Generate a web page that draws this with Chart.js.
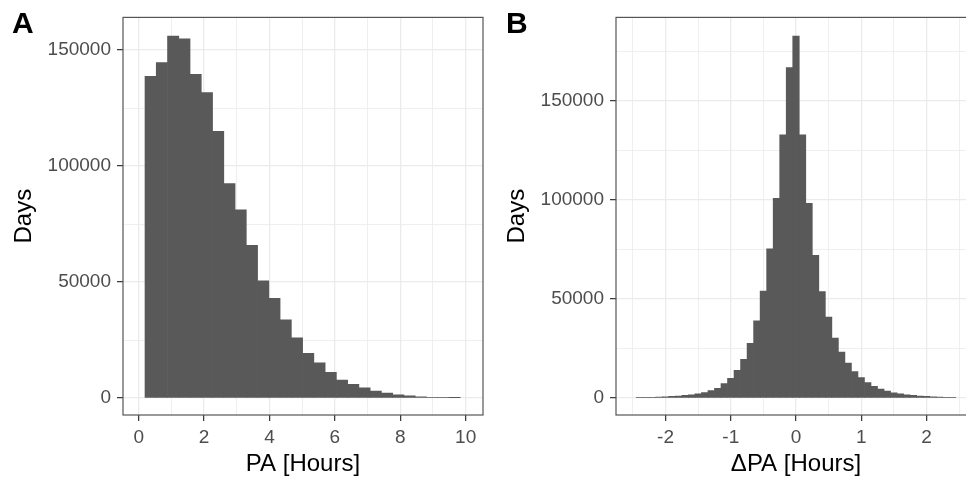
<!DOCTYPE html>
<html><head><meta charset="utf-8">
<script src="https://cdn.jsdelivr.net/npm/chart.js@4.4.1/dist/chart.umd.min.js"></script>
<style>
html,body{margin:0;padding:0;width:966px;height:478px;overflow:hidden;background:#fff;}
canvas{position:absolute;top:0;}
#ca{left:0}
#cb{left:493px}
.tag{position:absolute;font:bold 30px "Liberation Sans",Arial,sans-serif;line-height:30px;color:#000;z-index:2}
</style></head><body>
<canvas id="ca" width="490" height="478"></canvas>
<canvas id="cb" width="490" height="478"></canvas>
<div class="tag" style="left:12px;top:8px">A</div>
<div class="tag" style="left:506px;top:8px">B</div>
<script>
// ---- Panel A: PA [Hours] histogram ----
const paBins = [0.365,0.709,1.054,1.398,1.742,2.087,2.431,2.775,3.119,3.464,3.808,4.152,4.497,4.841,
                5.185,5.530,5.874,6.218,6.562,6.907,7.251,7.595,7.940,8.284,8.628,8.973,9.317,9.661];
const paDays = [138700,144600,156100,154900,139600,131700,115000,92400,81100,65800,50500,43000,33700,26000,
                19300,15200,11050,7700,5900,4350,3000,2150,1400,900,560,350,260,140];
const paTicks = [0,2,4,6,8,10];
const paMinorTicks = [1,3,5,7,9];

// ---- Panel B: ΔPA [Hours] histogram ----
const dpaBins = [-2.4,-2.3,-2.2,-2.1,-2.0,-1.9,-1.8,-1.7,-1.6,-1.5,-1.4,-1.3,-1.2,-1.1,-1.0,-0.9,-0.8,-0.7,-0.6,-0.5,
                 -0.4,-0.3,-0.2,-0.1,0.0,0.1,0.2,0.3,0.4,0.5,0.6,0.7,0.8,0.9,1.0,1.1,1.2,1.3,1.4,1.5,1.6,1.7,1.8,1.9,
                 2.0,2.1,2.2,2.3,2.4];
const dpaDays = [250,300,400,500,660,800,990,1320,1650,2150,2700,3700,4950,7300,10000,14000,19500,27600,39000,54000,
                 75300,100800,132800,166800,182700,132800,98300,72000,53700,40800,30200,23200,17600,13300,10300,7760,
                 5940,4460,3470,2640,2150,1650,1320,990,820,660,500,400,330];
const dpaTicks = [-2,-1,0,1,2];
const dpaMinorTicks = [-2.5,-1.5,-0.5,0.5,1.5,2.5];

// ---- Y (Days) ticks ----
const daysTicks = [0,50000,100000,150000];
const daysMinorA = [25000,75000,125000];
const daysMinorB = [25000,75000,125000,175000];

const FONT = '"Liberation Sans", Arial, Helvetica, sans-serif';
Chart.defaults.font.family = FONT;

const panelBorder = {
  id: 'panelBorder',
  afterDraw(chart) {
    const {ctx, chartArea: a} = chart;
    ctx.save();
    ctx.strokeStyle = '#555555';
    ctx.lineWidth = 1.2;
    ctx.strokeRect(a.left, a.top, a.right - a.left, a.bottom - a.top);
    ctx.restore();
  }
};

function inList(list, v) { return list.some(m => Math.abs(m - v) < 1e-9); }

function histogram(id, bins, days, xRange, yRange, xMajor, xMinor, yMajor, yMinor, xTitle) {
  return new Chart(document.getElementById(id), {
    type: 'bar',
    data: {
      datasets: [{
        data: bins.map((x, i) => ({x: x, y: days[i]})),
        backgroundColor: '#595959',
        borderWidth: 0,
        barPercentage: 1,
        categoryPercentage: 1
      }]
    },
    options: {
      responsive: false,
      animation: false,
      devicePixelRatio: 1,
      layout: {padding: {top: 10, right: 7, left: 0, bottom: 0}},
      plugins: {legend: {display: false}, tooltip: {enabled: false}, title: {display: false}},
      scales: {
        x: {
          type: 'linear', min: xRange[0], max: xRange[1], offset: false,
          afterBuildTicks: ax => { ax.ticks = [...xMajor, ...xMinor].sort((a, b) => a - b).map(v => ({value: v})); },
          afterFit: ax => { ax.height = 63; },
          grid: {
            offset: false, color: '#EBEBEB',
            lineWidth: c => inList(xMinor, c.tick.value) ? 0.8 : 1.3,
            tickColor: c => inList(xMinor, c.tick.value) ? 'rgba(0,0,0,0)' : '#333333',
            tickLength: 6, tickWidth: 1.2
          },
          border: {display: false},
          ticks: {
            autoSkip: false, maxRotation: 0, color: '#4D4D4D', font: {size: 19}, padding: 5,
            callback: v => inList(xMinor, v) ? '' : String(v)
          },
          title: {display: true, text: xTitle, color: '#000000', font: {size: 24, lineHeight: 1.0}, padding: {top: 0, bottom: 2}}
        },
        y: {
          type: 'linear', min: yRange[0], max: yRange[1],
          afterBuildTicks: ax => { ax.ticks = [...yMajor, ...yMinor].sort((a, b) => a - b).map(v => ({value: v})); },
          afterFit: ax => { ax.width = 123; },
          grid: {
            color: '#EBEBEB',
            lineWidth: c => inList(yMinor, c.tick.value) ? 0.8 : 1.3,
            tickColor: c => inList(yMinor, c.tick.value) ? 'rgba(0,0,0,0)' : '#333333',
            tickLength: 6, tickWidth: 1.2
          },
          border: {display: false},
          ticks: {
            autoSkip: false, color: '#4D4D4D', font: {size: 19}, padding: 6,
            callback: v => inList(yMinor, v) ? '' : String(v)
          },
          title: {display: true, text: 'Days', color: '#000000', font: {size: 24}, padding: {top: 10, bottom: 0}}
        }
      }
    },
    plugins: [panelBorder]
  });
}

histogram('ca', paBins, paDays, [-0.48, 10.53], [-7320, 164100], paTicks, paMinorTicks, daysTicks, daysMinorA, 'PA [Hours]');
histogram('cb', dpaBins, dpaDays, [-2.76, 2.76], [-8570, 192110], dpaTicks, dpaMinorTicks, daysTicks, daysMinorB, 'ΔPA [Hours]');
</script>
</body></html>
